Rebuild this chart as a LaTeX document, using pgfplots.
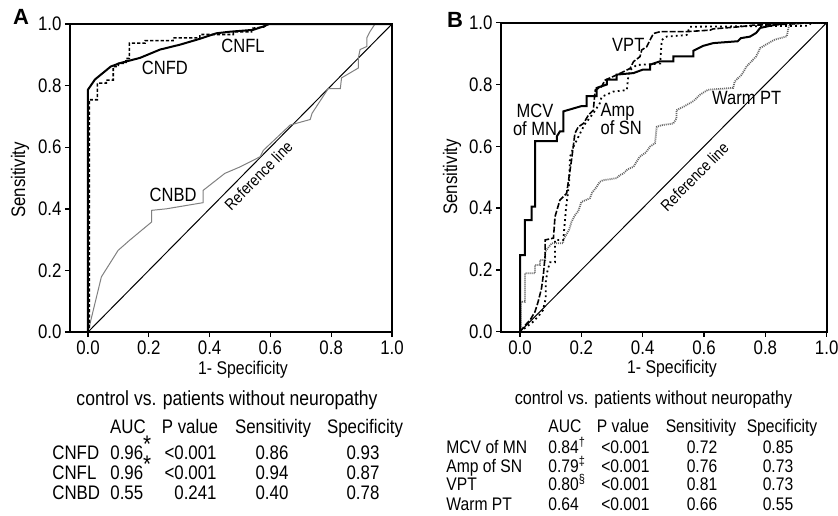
\documentclass[border=0pt]{standalone}
\usepackage{fontspec}
\setmainfont{Liberation Sans}
\newfontfamily\nf{Liberation Sans}[FakeStretch=0.86]
\usepackage{pgfplots}
\pgfplotsset{compat=1.18}

% one image pixel = 0.5pt, origin at the top left corner of the figure
\pgfplotsset{
  rocaxis/.style={
    scale only axis, ymin=0, ymax=1, xmax=1,
    axis line style={line width=0.9pt},
    tick align=outside, tick pos=left,
    major tick length=2.5pt,
    xtick={0,0.2,0.4,0.6,0.8,1}, ytick={0,0.2,0.4,0.6,0.8,1},
    every tick/.style={black, line width=0.7pt},
    tick label style={font=\nf\fontsize{9.8}{10}\selectfont},
    yticklabel style={xshift=1.8pt},
    xticklabel style={yshift=1.5pt},
    /pgf/number format/fixed,
    /pgf/number format/fixed zerofill,
    /pgf/number format/precision=1,
    /pgf/number format/assume math mode=true,
  },
}
\tikzset{lbl/.style={font=\nf\fontsize{9.6}{10}\selectfont}}
\newcommand{\bigstar}{\raisebox{3.5pt}{\fontsize{12}{12}\selectfont*}}

\begin{document}
\begin{tikzpicture}
\useasboundingbox (0,0) rectangle (419pt,-257.5pt);

% ---------------- panel A ----------------
\begin{axis}[rocaxis, at={(35pt,-166pt)}, anchor=south west,
  width=161pt, height=154pt, xmin=-0.0592]
\addplot[black, line width=0.5pt] coordinates {(0,0) (1,1)};
% CNBD
\addplot[gray, line width=0.5pt] coordinates {
 (0,0) (0.044,0.179) (0.099,0.265) (0.137,0.298) (0.209,0.357) (0.209,0.395)
 (0.258,0.40) (0.379,0.42) (0.379,0.46) (0.45,0.515) (0.5,0.536) (0.566,0.569)
 (0.577,0.59) (0.665,0.672) (0.731,0.69) (0.737,0.71) (0.79,0.79) (0.83,0.79)
 (0.834,0.825) (0.889,0.857) (0.889,0.889) (0.895,0.917) (0.917,0.927)
 (0.917,0.955) (0.928,0.976) (0.944,1.0) (1,1)};
% CNFL
\addplot[black, line width=0.8pt, dash pattern=on 1.6pt off 1pt] coordinates {
 (0,0) (0.004,0) (0.004,0.754) (0.031,0.754) (0.031,0.808) (0.06,0.808)
 (0.06,0.818) (0.083,0.818) (0.083,0.862) (0.1,0.862) (0.1,0.872) (0.125,0.872)
 (0.125,0.888) (0.136,0.888) (0.136,0.938) (0.188,0.938) (0.188,0.946)
 (0.28,0.946) (0.28,0.955) (0.368,0.955) (0.368,0.966) (0.478,0.966)
 (0.478,0.975) (0.538,0.975) (0.538,0.986) (0.577,0.99) (0.595,1.0) (1,1)};
% CNFD
\addplot[black, line width=1pt] coordinates {
 (0,0) (0,0.787) (0.023,0.82) (0.075,0.862) (0.105,0.873) (0.171,0.89)
 (0.237,0.917) (0.303,0.933) (0.368,0.952) (0.423,0.97) (0.467,0.975)
 (0.543,0.981) (0.577,0.992) (0.595,1.0) (1,1)};
\node[lbl] at (axis cs:0.51,0.93) {CNFL};
\node[lbl] at (axis cs:0.253,0.857) {CNFD};
\node[lbl] at (axis cs:0.28,0.445) {CNBD};
\node[font=\nf\fontsize{8}{9}\selectfont, rotate=45.4] at (axis cs:0.561,0.508) {Reference line};
\end{axis}

% ---------------- panel B ----------------
\begin{axis}[rocaxis, at={(250.5pt,-165.85pt)}, anchor=south west,
  width=162.85pt, height=154.5pt, xmin=-0.062]
\addplot[black, line width=0.5pt] coordinates {(0,0) (1,1)};
% Warm PT
\addplot[gray!80!black, line width=0.9pt, dash pattern=on 0.5pt off 0.5pt] coordinates {
 (0,0) (0.003,0) (0.003,0.097) (0.016,0.097) (0.016,0.189) (0.049,0.189)
 (0.049,0.216) (0.065,0.216) (0.065,0.232) (0.082,0.232) (0.082,0.259)
 (0.103,0.286) (0.141,0.286) (0.141,0.297) (0.15,0.313) (0.16,0.33)
 (0.168,0.356) (0.18,0.378) (0.19,0.39) (0.2,0.42) (0.228,0.432) (0.235,0.45)
 (0.25,0.469) (0.26,0.485) (0.27,0.49) (0.315,0.497) (0.326,0.507)
 (0.337,0.512) (0.35,0.525) (0.37,0.534) (0.38,0.55) (0.39,0.566) (0.41,0.58)
 (0.424,0.599) (0.44,0.61) (0.446,0.663) (0.46,0.668) (0.5,0.674) (0.51,0.69)
 (0.51,0.717) (0.533,0.728) (0.565,0.746) (0.587,0.767) (0.613,0.783)
 (0.695,0.789) (0.7,0.81) (0.723,0.832) (0.739,0.859) (0.75,0.87) (0.77,0.891)
 (0.783,0.918) (0.81,0.934) (0.83,0.945) (0.87,0.956) (0.875,0.983)
 (0.88,0.994) (0.935,1.0) (1,1)};
% Amp of SN
\addplot[black, line width=0.9pt, dash pattern=on 0.9pt off 1.6pt] coordinates {
 (0,0) (0.02,0.015) (0.04,0.03) (0.06,0.05) (0.075,0.07) (0.084,0.109)
 (0.084,0.162) (0.09,0.2) (0.098,0.225) (0.114,0.225) (0.114,0.297)
 (0.141,0.297) (0.15,0.4) (0.16,0.48) (0.163,0.566) (0.175,0.6) (0.196,0.642)
 (0.21,0.67) (0.239,0.707) (0.26,0.739) (0.266,0.76) (0.304,0.777)
 (0.348,0.782) (0.353,0.825) (0.359,0.847) (0.38,0.863) (0.457,0.868)
 (0.462,0.944) (0.478,0.955) (0.543,0.96) (0.554,0.987) (0.94,0.99)
 (0.95,1.0) (1,1)};
% VPT
\addplot[black, line width=0.8pt, dash pattern=on 3pt off 1pt] coordinates {
 (0,0) (0.016,0.02) (0.033,0.038) (0.049,0.065) (0.059,0.097) (0.07,0.14)
 (0.076,0.183) (0.082,0.248) (0.082,0.297) (0.109,0.303) (0.114,0.372)
 (0.13,0.426) (0.152,0.448) (0.168,0.556) (0.179,0.642) (0.19,0.663)
 (0.207,0.674) (0.223,0.701) (0.239,0.717) (0.245,0.782) (0.266,0.793)
 (0.277,0.814) (0.326,0.836) (0.359,0.852) (0.37,0.874) (0.391,0.89)
 (0.397,0.912) (0.413,0.922) (0.424,0.944) (0.435,0.965) (0.457,0.971)
 (0.543,0.971) (0.62,0.976) (0.63,0.98) (0.717,0.987) (0.76,0.992)
 (0.87,0.995) (0.94,1.0) (1,1)};
% MCV of MN
\addplot[black, line width=1pt] coordinates {
 (0,0) (0,0.248) (0.016,0.248) (0.016,0.361) (0.038,0.361) (0.038,0.405)
 (0.049,0.405) (0.049,0.617) (0.12,0.617) (0.12,0.632) (0.13,0.648)
 (0.141,0.648) (0.141,0.713) (0.2,0.73) (0.217,0.73) (0.217,0.762)
 (0.25,0.762) (0.25,0.789) (0.283,0.8) (0.283,0.816) (0.315,0.816)
 (0.315,0.832) (0.37,0.837) (0.4,0.848) (0.424,0.848) (0.424,0.864)
 (0.456,0.875) (0.5,0.875) (0.5,0.891) (0.565,0.891) (0.565,0.909)
 (0.597,0.925) (0.63,0.934) (0.71,0.94) (0.72,0.95) (0.75,0.955)
 (0.77,0.967) (0.783,0.983) (0.815,0.99) (0.87,1.0) (1,1)};
\node[lbl] at (axis cs:0.353,0.928) {VPT};
\node[lbl, align=center, inner sep=0pt] at (axis cs:0.049,0.686) {MCV\\[-1pt]of MN};
\node[lbl, align=left, inner sep=0pt] at (axis cs:0.33,0.69) {Amp\\[-1pt]of SN};
\node[lbl] at (axis cs:0.739,0.755) {Warm PT};
\node[font=\nf\fontsize{8}{9}\selectfont, rotate=45.2] at (axis cs:0.569,0.502) {Reference line};
\end{axis}

% panel letters and axis titles
\node[font=\fontsize{11}{12}\selectfont\bfseries] at (10.5pt,-8.5pt) {A};
\node[font=\fontsize{11}{12}\selectfont\bfseries] at (227.5pt,-10pt) {B};
\node[font=\nf\fontsize{9.8}{10}\selectfont, rotate=90] at (10pt,-90pt) {Sensitivity};
\node[font=\nf\fontsize{9.8}{10}\selectfont, rotate=90] at (226pt,-88.5pt) {Sensitivity};
\node[font=\nf\fontsize{9.2}{10}\selectfont, anchor=base] at (121.5pt,-187pt) {1- Specificity};
\node[font=\nf\fontsize{9.2}{10}\selectfont, anchor=base] at (336pt,-186.5pt) {1- Specificity};

% ---------------- table A ----------------
\begin{scope}[every node/.style={font=\nf\fontsize{9.8}{10}\selectfont, inner sep=0pt}]
\node[font=\nf\fontsize{10.2}{11}\selectfont] at (113.5pt,-200pt) {control vs. patients without neuropathy};
\node[anchor=base] at (64pt,-216.75pt) {AUC};
\node[anchor=base] at (95pt,-216.75pt) {P value};
\node[anchor=base] at (136.5pt,-216.75pt) {Sensitivity};
\node[anchor=base] at (182.5pt,-216.75pt) {Specificity};
\foreach \y/\lab/\auc/\p/\se/\sp in {
  -229.8/CNFD/0.96\bigstar/<0.001/0.86/0.93,
  -239.8/CNFL/0.96\bigstar/<0.001/0.94/0.87,
  -249.8/CNBD/0.55/0.241/0.40/0.78} {
  \node[anchor=base west] at (26pt,\y pt) {\lab};
  \node[anchor=base west] at (55pt,\y pt) {\auc};
  \node[anchor=base east] at (108.5pt,\y pt) {\p};
  \node[anchor=base] at (136pt,\y pt) {\se};
  \node[anchor=base] at (181.5pt,\y pt) {\sp};
}
\end{scope}

% ---------------- table B ----------------
\begin{scope}[every node/.style={font=\nf\fontsize{9.1}{10}\selectfont, inner sep=0pt}]
\node[font=\nf\fontsize{9.4}{10}\selectfont] at (326.75pt,-200pt) {control vs. patients without neuropathy};
\node[anchor=base] at (282.5pt,-216.4pt) {AUC};
\node[anchor=base] at (311.5pt,-216.4pt) {P value};
\node[anchor=base] at (350.5pt,-216.4pt) {Sensitivity};
\node[anchor=base] at (391pt,-216.4pt) {Specificity};
\foreach \y/\lab/\auc/\p/\se/\sp in {
  -226.9/MCV of MN/0.84\textsuperscript{†}/<0.001/0.72/0.85,
  -236.4/Amp of SN/0.79\textsuperscript{‡}/<0.001/0.76/0.73,
  -245.4/VPT/0.80\textsuperscript{§}/<0.001/0.81/0.73,
  -255.4/Warm PT/0.64/<0.001/0.66/0.55} {
  \node[anchor=base west] at (223pt,\y pt) {\lab};
  \node[anchor=base west] at (274pt,\y pt) {\auc};
  \node[anchor=base east] at (325pt,\y pt) {\p};
  \node[anchor=base] at (351pt,\y pt) {\se};
  \node[anchor=base] at (389pt,\y pt) {\sp};
}
\end{scope}
\end{tikzpicture}
\end{document}
